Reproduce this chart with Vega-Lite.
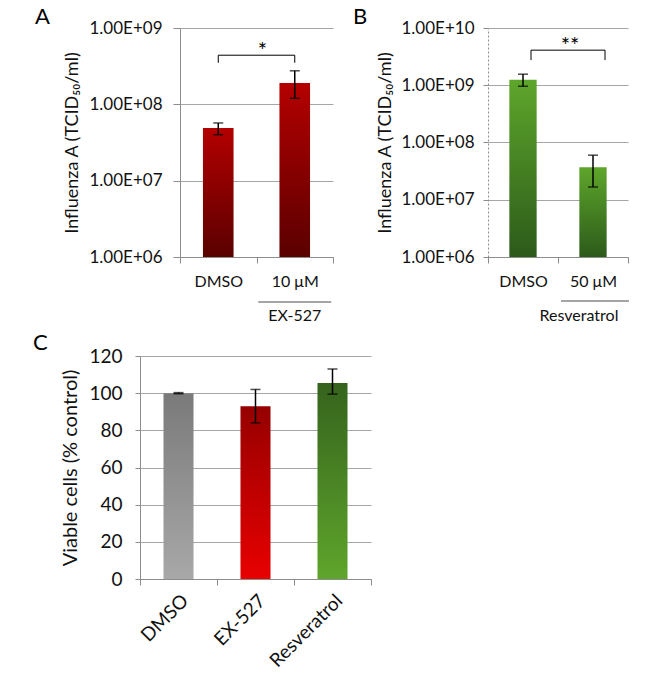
{
  "$schema": "https://vega.github.io/schema/vega-lite/v6.json",
  "background": "white",
  "padding": {"left": 9, "top": 6, "right": 5, "bottom": 5},
  "config": {
    "font": "Lato",
    "view": {"stroke": null},
    "axis": {"labelFont": "Lato", "titleFont": "Lato", "labelColor": "#111111", "titleColor": "#111111", "domainColor": "#8c8c8c", "tickColor": "#8c8c8c", "gridColor": "#a6a6a6", "titleFontWeight": "normal", "labelOverlap": false},
    "title": {"font": "Lato", "fontWeight": "normal", "fontSize": 22, "color": "#000000", "anchor": "start", "frame": "group"},
    "text": {"font": "Lato", "color": "#111111"}
  },
  "spacing": 8,
  "vconcat": [
    {
      "spacing": 19,
      "hconcat": [
        {
          "width": 1,
          "height": 1,
          "data": {"values": [{"spacer": 0}]},
          "mark": {"type": "point", "opacity": 0},
          "encoding": {}
        },
        {
          "width": 153,
          "height": 229,
          "title": {"text": "A", "dx": -145, "offset": -10},
          "data": {"values": [
            {"cond": "DMSO", "v": 49000000, "lo": 40000000, "hi": 57000000, "base": 1000000},
            {"cond": "10 μM", "v": 190000000, "lo": 120000000, "hi": 275000000, "base": 1000000}
          ]},
          "layer": [
            {
              "mark": {"type": "bar", "width": {"band": 0.4}, "color": {"gradient": "linear", "x1": 0, "y1": 0, "x2": 0, "y2": 1, "stops": [{"offset": 0, "color": "#b40000"}, {"offset": 1, "color": "#5a0000"}]}},
              "encoding": {
                "x": {"field": "cond", "type": "nominal", "scale": {"domain": ["DMSO", "10 μM"], "paddingInner": 0, "paddingOuter": 0}, "axis": {"title": null, "labelAngle": 0, "tickBand": "extent", "tickSize": 6, "labelPadding": 10, "labelFontSize": 16}},
                "y": {"field": "v", "type": "quantitative", "title": "Influenza A (TCID₅₀/ml)", "scale": {"type": "log", "domain": [1000000, 1000000000]}, "axis": {"title": "Influenza A (TCID₅₀/ml)", "values": [1000000, 10000000, 100000000, 1000000000], "labelExpr": "datum.value >= 1e10 ? '1.00E+10' : '1.00E+0' + round(log(datum.value)/LN10)", "tickSize": 7, "labelPadding": 11, "titlePadding": 8, "labelFontSize": 17, "titleFontSize": 18, "grid": true}},
                "y2": {"field": "base"}
              }
            },
            {
              "mark": {"type": "errorbar", "ticks": {"size": 10, "color": "#000000", "thickness": 1.5}, "rule": {"color": "#000000", "strokeWidth": 1.5}},
              "encoding": {
                "x": {"field": "cond", "type": "nominal"},
                "y": {"field": "lo", "type": "quantitative", "title": "Influenza A (TCID₅₀/ml)"},
                "y2": {"field": "hi"}
              }
            },
            {
              "data": {"values": [{"a": "DMSO", "b": "10 μM", "top": 440000000, "bot": 350000000, "star": "*", "group": "EX-527", "base": 1000000}]},
              "layer": [
                {"mark": {"type": "rule", "color": "#000000", "strokeWidth": 1}, "encoding": {"x": {"field": "a", "type": "nominal"}, "x2": {"field": "b"}, "y": {"field": "top", "type": "quantitative"}}},
                {"mark": {"type": "rule", "color": "#000000", "strokeWidth": 1}, "encoding": {"x": {"field": "a", "type": "nominal"}, "y": {"field": "top", "type": "quantitative"}, "y2": {"field": "bot"}}},
                {"mark": {"type": "rule", "color": "#000000", "strokeWidth": 1}, "encoding": {"x": {"field": "b", "type": "nominal"}, "y": {"field": "top", "type": "quantitative"}, "y2": {"field": "bot"}}},
                {"mark": {"type": "text", "fontSize": 22, "baseline": "alphabetic", "dy": 3, "dx": 6, "color": "#000000"}, "encoding": {"x": {"field": "a", "type": "nominal", "bandPosition": 1}, "y": {"field": "top", "type": "quantitative"}, "text": {"field": "star"}}},
                {"mark": {"type": "tick", "orient": "horizontal", "size": 73, "thickness": 1, "color": "#000000", "yOffset": 45}, "encoding": {"x": {"field": "b", "type": "nominal"}, "y": {"field": "base", "type": "quantitative"}}},
                {"mark": {"type": "text", "fontSize": 16, "baseline": "middle", "dy": 59}, "encoding": {"x": {"field": "b", "type": "nominal"}, "y": {"field": "base", "type": "quantitative"}, "text": {"field": "group"}}}
              ]
            }
          ]
        },
        {
          "width": 140,
          "height": 229,
          "title": {"text": "B", "dx": -135, "offset": -10},
          "data": {"values": [
            {"cond": "DMSO", "v": 1250000000, "lo": 960000000, "hi": 1560000000, "base": 1000000},
            {"cond": "50 μM", "v": 37000000, "lo": 16700000, "hi": 60000000, "base": 1000000}
          ]},
          "layer": [
            {
              "mark": {"type": "bar", "width": {"band": 0.39}, "color": {"gradient": "linear", "x1": 0, "y1": 0, "x2": 0, "y2": 1, "stops": [{"offset": 0, "color": "#5ea62b"}, {"offset": 1, "color": "#2c5a1a"}]}},
              "encoding": {
                "x": {"field": "cond", "type": "nominal", "scale": {"domain": ["DMSO", "50 μM"], "paddingInner": 0, "paddingOuter": 0}, "axis": {"title": null, "labelAngle": 0, "tickBand": "extent", "tickSize": 6, "labelPadding": 10, "labelFontSize": 16}},
                "y": {"field": "v", "type": "quantitative", "title": "Influenza A (TCID₅₀/ml)", "scale": {"type": "log", "domain": [1000000, 10000000000]}, "axis": {"title": "Influenza A (TCID₅₀/ml)", "values": [1000000, 10000000, 100000000, 1000000000, 10000000000], "labelExpr": "datum.value >= 1e10 ? '1.00E+10' : '1.00E+0' + round(log(datum.value)/LN10)", "tickSize": 5, "labelPadding": 9, "titlePadding": 7, "labelFontSize": 17, "titleFontSize": 18, "grid": true, "domainDash": [2, 2]}},
                "y2": {"field": "base"}
              }
            },
            {
              "mark": {"type": "errorbar", "ticks": {"size": 10, "color": "#000000", "thickness": 1.5}, "rule": {"color": "#000000", "strokeWidth": 1.5}},
              "encoding": {
                "x": {"field": "cond", "type": "nominal"},
                "y": {"field": "lo", "type": "quantitative", "title": "Influenza A (TCID₅₀/ml)"},
                "y2": {"field": "hi"}
              }
            },
            {
              "data": {"values": [{"a": "DMSO", "b": "50 μM", "top": 4100000000, "bot": 2750000000, "star": "**", "group": "Resveratrol", "base": 1000000}]},
              "layer": [
                {"mark": {"type": "rule", "color": "#000000", "strokeWidth": 1, "xOffset": 8, "x2Offset": 12}, "encoding": {"x": {"field": "a", "type": "nominal"}, "x2": {"field": "b"}, "y": {"field": "top", "type": "quantitative"}}},
                {"mark": {"type": "rule", "color": "#000000", "strokeWidth": 1, "xOffset": 8}, "encoding": {"x": {"field": "a", "type": "nominal"}, "y": {"field": "top", "type": "quantitative"}, "y2": {"field": "bot"}}},
                {"mark": {"type": "rule", "color": "#000000", "strokeWidth": 1, "xOffset": 12}, "encoding": {"x": {"field": "b", "type": "nominal"}, "y": {"field": "top", "type": "quantitative"}, "y2": {"field": "bot"}}},
                {"mark": {"type": "text", "fontSize": 22, "baseline": "alphabetic", "dy": 3, "dx": 12, "color": "#000000"}, "encoding": {"x": {"field": "a", "type": "nominal", "bandPosition": 1}, "y": {"field": "top", "type": "quantitative"}, "text": {"field": "star"}}},
                {"mark": {"type": "tick", "orient": "horizontal", "size": 68, "thickness": 1, "color": "#000000", "yOffset": 44, "xOffset": 2}, "encoding": {"x": {"field": "b", "type": "nominal"}, "y": {"field": "base", "type": "quantitative"}}},
                {"mark": {"type": "text", "fontSize": 16, "baseline": "middle", "dy": 59, "dx": -14}, "encoding": {"x": {"field": "b", "type": "nominal"}, "y": {"field": "base", "type": "quantitative"}, "text": {"field": "group"}}}
              ]
            }
          ]
        }
      ]
    },
    {
      "spacing": 17,
      "hconcat": [
        {
          "width": 1,
          "height": 1,
          "data": {"values": [{"spacer": 0}]},
          "mark": {"type": "point", "opacity": 0},
          "encoding": {}
        },
        {
          "width": 231,
          "height": 223,
          "title": {"text": "C", "dx": -107, "offset": -8},
          "data": {"values": [
            {"cond": "DMSO", "v": 100, "lo": 99.7, "hi": 100.3},
            {"cond": "EX-527", "v": 93, "lo": 84, "hi": 102},
            {"cond": "Resveratrol", "v": 105.5, "lo": 99.5, "hi": 113}
          ]},
          "encoding": {
            "x": {"field": "cond", "type": "nominal", "scale": {"domain": ["DMSO", "EX-527", "Resveratrol"], "paddingInner": 0, "paddingOuter": 0}, "axis": {"title": null, "labelAngle": -45, "labelFontSize": 19, "tickBand": "extent", "tickSize": 6, "labelPadding": 6}},
            "y": {"field": "v", "type": "quantitative", "title": "Viable cells (% control)", "scale": {"domain": [0, 120]}, "axis": {"title": "Viable cells (% control)", "values": [0, 20, 40, 60, 80, 100, 120], "tickSize": 5, "labelPadding": 13, "titlePadding": 8, "labelFontSize": 19, "titleFontSize": 20, "grid": true, "labelOverlap": false}}
          },
          "layer": [
            {
              "transform": [{"filter": "datum.cond === 'DMSO'"}],
              "mark": {"type": "bar", "width": {"band": 0.39}, "color": {"gradient": "linear", "x1": 0, "y1": 0, "x2": 0, "y2": 1, "stops": [{"offset": 0, "color": "#7a7a7a"}, {"offset": 1, "color": "#a8a8a8"}]}}
            },
            {
              "transform": [{"filter": "datum.cond === 'EX-527'"}],
              "mark": {"type": "bar", "width": {"band": 0.39}, "color": {"gradient": "linear", "x1": 0, "y1": 0, "x2": 0, "y2": 1, "stops": [{"offset": 0, "color": "#960000"}, {"offset": 1, "color": "#e80000"}]}}
            },
            {
              "transform": [{"filter": "datum.cond === 'Resveratrol'"}],
              "mark": {"type": "bar", "width": {"band": 0.39}, "color": {"gradient": "linear", "x1": 0, "y1": 0, "x2": 0, "y2": 1, "stops": [{"offset": 0, "color": "#35631d"}, {"offset": 1, "color": "#5fa52b"}]}}
            },
            {
              "mark": {"type": "errorbar", "ticks": {"size": 10, "color": "#000000", "thickness": 1.5}, "rule": {"color": "#000000", "strokeWidth": 1.5}},
              "encoding": {
                "y": {"field": "lo", "type": "quantitative", "title": "Viable cells (% control)"},
                "y2": {"field": "hi"}
              }
            }
          ]
        }
      ]
    }
  ]
}
